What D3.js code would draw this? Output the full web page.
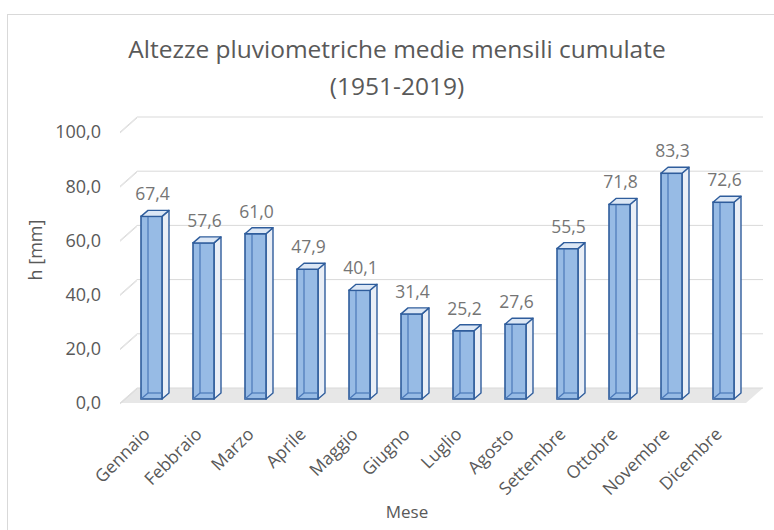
<!DOCTYPE html>
<html><head><meta charset="utf-8">
<script src="https://cdn.jsdelivr.net/npm/d3@7"></script>
<style>body{margin:0;background:#fff}svg{display:block}</style>
</head><body>
<svg id="c" width="774" height="530"></svg>
<script>
const months = ["Gennaio","Febbraio","Marzo","Aprile","Maggio","Giugno","Luglio","Agosto","Settembre","Ottobre","Novembre","Dicembre"];
const values = [67.4,57.6,61.0,47.9,40.1,31.4,25.2,27.6,55.5,71.8,83.3,72.6];
const yTicks = [0,20,40,60,80,100];
const titleLines = ["Altezze pluviometriche medie mensili cumulate","(1951-2019)"];
const yTitle = "h [mm]";
const xTitle = "Mese";

const svg = d3.select("#c");
const font = "'Open Sans', 'Noto Sans', sans-serif";
const fmt = v => v.toFixed(1).replace(".", ",");

// frame
svg.append("rect").attr("x",7.5).attr("y",14.5).attr("width",800).attr("height",600)
  .attr("fill","#fff").attr("stroke","#d9d9d9");

const dx = 7, dy = -6;          // bar depth
const wdx = 17, wdy = -15;      // wall depth
const yFront = d3.scaleLinear().domain([0,100]).range([403,132]);
const yBack  = d3.scaleLinear().domain([0,100]).range([388,117]);
const yBar   = d3.scaleLinear().domain([0,100]).range([399,128]);
const x = d3.scaleBand().domain(months).range([125.5,749.5]);
const bw = 21;

// floor
const fl = [[120,yFront(0)],[120+wdx,yBack(0)],[763,yBack(0)],[763-wdx,yFront(0)]];
svg.append("polygon").attr("points",fl.map(p=>p.join(",")).join(" "))
  .attr("fill","#e7e7e7");

// gridlines on back wall
svg.selectAll(".grid").data(yTicks).join("line")
  .attr("x1",120+wdx).attr("x2",763)
  .attr("y1",d=>yBack(d)).attr("y2",d=>yBack(d))
  .attr("stroke","#d9d9d9").attr("stroke-width",1);
// side diagonal ticks
yTicks.forEach(t=>{
  [0,2].forEach(o=>{
    svg.append("line").attr("x1",120).attr("y1",yFront(t)+o*0.5)
      .attr("x2",120+wdx).attr("y2",yBack(t)+o*0.5)
      .attr("stroke","#dadada").attr("stroke-width",0.9);
  });
});

// y labels
svg.selectAll(".yl").data(yTicks).join("text")
  .attr("x",101).attr("y",d=>yFront(d)).attr("dy","0.35em")
  .attr("text-anchor","end").attr("font-family",font).attr("font-size",18)
  .attr("fill","#595959").text(d=>fmt(d));

// bars
const edge = "#2f5d9c";
const g = svg.append("g");
months.forEach((m,i)=>{
  const v = values[i];
  const x0 = x(m) + (x.bandwidth()-bw)/2;
  const x1 = x0 + bw;
  const y0 = yBar(0), yt = yBar(v);
  const b = g.append("g");
  b.append("polygon").attr("points",[[x1,yt],[x1+dx,yt+dy],[x1+dx,y0+dy],[x1,y0]].map(p=>p.join(",")).join(" "))
    .attr("fill","#e9eef6").attr("stroke",edge).attr("stroke-width",1.4).attr("stroke-linejoin","round");
  b.append("rect").attr("x",x0).attr("y",yt).attr("width",bw).attr("height",y0-yt)
    .attr("fill","#97bbe5").attr("stroke",edge).attr("stroke-width",1.6);
  b.append("line").attr("x1",x0+dx).attr("y1",yt+dy).attr("x2",x0+dx).attr("y2",y0+dy)
    .attr("stroke","#4a78b8").attr("stroke-width",1.2);
  b.append("line").attr("x1",x0+dx).attr("y1",y0+dy).attr("x2",x1).attr("y2",y0+dy)
    .attr("stroke","#4a78b8").attr("stroke-width",1.2);
  b.append("line").attr("x1",x0).attr("y1",y0).attr("x2",x0+dx).attr("y2",y0+dy)
    .attr("stroke","#4a78b8").attr("stroke-width",1.2);
  b.append("polygon").attr("points",[[x0,yt],[x0+dx,yt+dy],[x1+dx,yt+dy],[x1,yt]].map(p=>p.join(",")).join(" "))
    .attr("fill","#dce7f5").attr("stroke",edge).attr("stroke-width",1.4).attr("stroke-linejoin","round");
  svg.append("text").attr("x",x0+bw/2+1).attr("y",yt-16)
    .attr("text-anchor","middle").attr("font-family",font).attr("font-size",17.5)
    .attr("fill","#757575").text(fmt(v));
  const cx = x0+bw/2-5, cy = 431;
  svg.append("text").attr("transform",`translate(${cx},${cy}) rotate(-45)`)
    .attr("text-anchor","end").attr("dy","0.35em").attr("font-family",font).attr("font-size",17.5)
    .attr("fill","#595959").text(m);
});

// titles
svg.append("text").attr("x",397).attr("y",58).attr("text-anchor","middle")
  .attr("font-family",font).attr("font-size",24.5).attr("fill","#595959").text(titleLines[0]);
svg.append("text").attr("x",397).attr("y",95).attr("text-anchor","middle")
  .attr("font-family",font).attr("font-size",24.5).attr("fill","#595959").text(titleLines[1]);
svg.append("text").attr("transform","translate(42,250) rotate(-90)").attr("text-anchor","middle")
  .attr("font-family",font).attr("font-size",18).attr("fill","#595959").text(yTitle);
svg.append("text").attr("x",407).attr("y",518).attr("text-anchor","middle")
  .attr("font-family",font).attr("font-size",17).attr("fill","#595959").text(xTitle);
</script>
</body></html>
